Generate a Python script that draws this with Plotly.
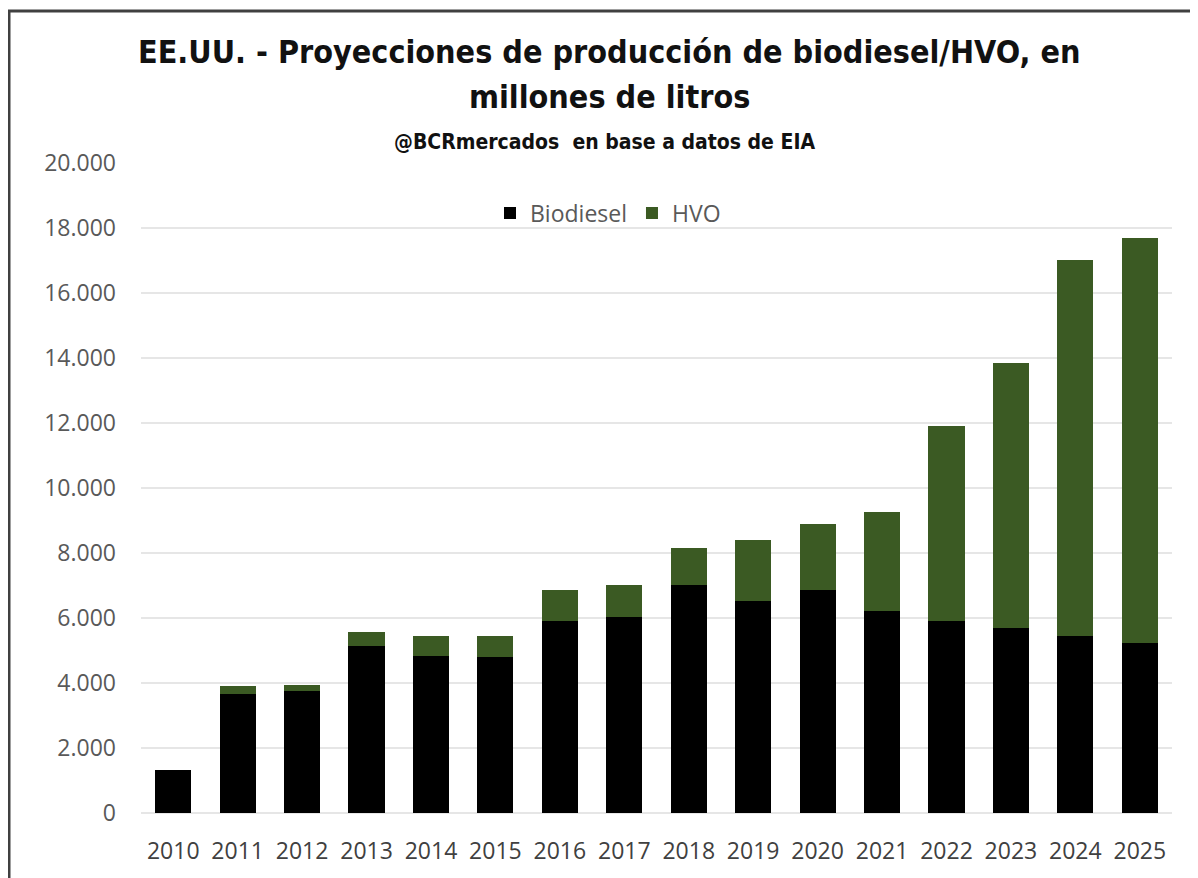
import plotly.graph_objects as go

years = ["2010", "2011", "2012", "2013", "2014", "2015", "2016", "2017",
         "2018", "2019", "2020", "2021", "2022", "2023", "2024", "2025"]
biodiesel = [1320, 3660, 3760, 5150, 4830, 4790, 5920, 6040,
             7020, 6530, 6860, 6220, 5920, 5680, 5450, 5220]
hvo = [0, 250, 170, 410, 610, 650, 940, 990,
       1140, 1880, 2030, 3050, 5990, 8180, 11570, 12480]

title_font = "Liberation Sans Narrow, DejaVu Sans Condensed, Arial Narrow, sans-serif"
tick_font = "Open Sans, Lato, sans-serif"

fig = go.Figure()
fig.add_trace(go.Bar(name="Biodiesel", x=years, y=biodiesel,
                     marker=dict(color="#000000", line=dict(width=0))))
fig.add_trace(go.Bar(name="HVO", x=years, y=hvo,
                     marker=dict(color="#3B5A23", line=dict(width=0))))

OFF = 8  # page body margin
W, H = 1198 - OFF, 878 - OFF
L = 141 - OFF
T = 163 - OFF
R = W - (1172 - OFF)
B = H - (813 - OFF)
pw, ph = W - L - R, H - T - B

def px_x(x):
    return (x - OFF - L) / pw

def px_y(y):
    return (H - B - (y - OFF)) / ph

fig.update_layout(
    width=W, height=H,
    margin=dict(l=L, r=R, t=T, b=B, pad=0),
    barmode="stack",
    bargap=0.44,
    plot_bgcolor="white",
    paper_bgcolor="white",
    separators=",.",
    showlegend=True,
    legend=dict(orientation="h", x=px_x(608), y=px_y(213), xanchor="center",
                yanchor="middle", font=dict(family=tick_font, size=23, color="#595959"),
                bgcolor="rgba(0,0,0,0)", itemwidth=30, traceorder="normal"),
    xaxis=dict(showgrid=False, showline=False, zeroline=False,
               tickfont=dict(family=tick_font, size=23, color="#404040"),
               ticklabelstandoff=22),
    yaxis=dict(range=[0, 20000], dtick=2000, tickformat=",d",
               showgrid=True, gridcolor="#E6E6E6", gridwidth=2,
               zeroline=True, zerolinecolor="#E6E6E6", zerolinewidth=2,
               showline=False,
               tickfont=dict(family=tick_font, size=23, color="#595959"),
               ticklabelstandoff=24),
    annotations=[
        dict(text="<b>EE.UU. - Proyecciones de producción de biodiesel/HVO, en</b>",
             xref="paper", yref="paper", x=px_x(609), y=px_y(52),
             xanchor="center", yanchor="middle", showarrow=False,
             font=dict(family=title_font, size=32, color="#111111")),
        dict(text="<b>millones de litros</b>",
             xref="paper", yref="paper", x=px_x(609), y=px_y(97),
             xanchor="center", yanchor="middle", showarrow=False,
             font=dict(family=title_font, size=32, color="#111111")),
        dict(text="<b>@BCRmercados  en base a datos de EIA</b>",
             xref="paper", yref="paper", x=px_x(604), y=px_y(142),
             xanchor="center", yanchor="middle", showarrow=False,
             font=dict(family=title_font, size=21, color="#111111")),
    ],
    shapes=[
        dict(type="line", xref="paper", yref="paper",
             x0=px_x(9), x1=px_x(9), y0=px_y(10), y1=px_y(900),
             line=dict(color="#404040", width=3)),
        dict(type="line", xref="paper", yref="paper",
             x0=px_x(8), x1=px_x(1210), y0=px_y(11), y1=px_y(11),
             line=dict(color="#404040", width=3)),
    ],
)

fig.write_html("out.html")
